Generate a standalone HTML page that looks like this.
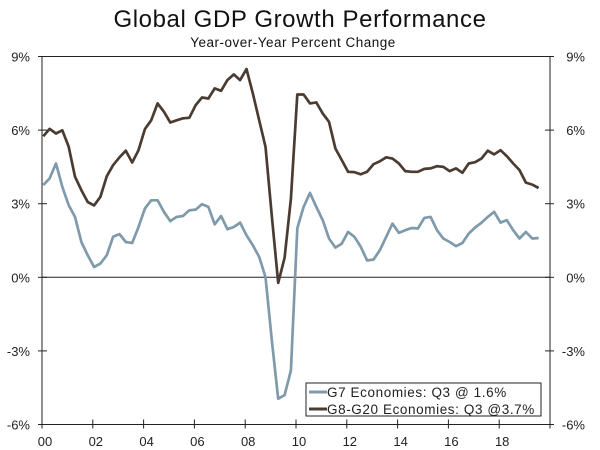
<!DOCTYPE html>
<html><head><meta charset="utf-8"><style>
html,body{margin:0;padding:0;background:#fff;}
svg{display:block;font-family:"Liberation Sans",sans-serif;}
</style></head><body>
<svg id="chart" width="600" height="450">
<text x="300" y="27" text-anchor="middle" font-size="24" letter-spacing="0.6" fill="#111">Global GDP Growth Performance</text>
<text x="293" y="47" text-anchor="middle" font-size="13.5" letter-spacing="0.5" fill="#111">Year-over-Year Percent Change</text>
<g id="axes"></g>
<g id="series"></g>
<g>
<rect x="306" y="383" width="235" height="33" fill="#fff" stroke="#222" stroke-width="1"/>
<line x1="309" y1="392" x2="327" y2="392" stroke="#7f9aab" stroke-width="3"/>
<text x="327" y="397" font-size="13.5" letter-spacing="0.6" fill="#222">G7 Economies: Q3 @ 1.6%</text>
<line x1="309" y1="409" x2="327" y2="409" stroke="#4a3c32" stroke-width="3"/>
<text x="327" y="414" font-size="13.5" letter-spacing="0.6" fill="#222">G8-G20 Economies: Q3 @3.7%</text>
</g>
</svg>
<script>
const startYear = 2000;
const g7Values = [3.76,4.03,4.64,3.69,2.94,2.46,1.44,0.9,0.42,0.56,0.9,1.65,1.76,1.44,1.4,2.05,2.8,3.14,3.14,2.67,2.29,2.46,2.5,2.73,2.76,2.98,2.87,2.16,2.5,1.96,2.05,2.23,1.71,1.31,0.83,0.01,-2.6,-4.95,-4.8,-3.8,
2.0,2.87,3.44,2.87,2.33,1.58,1.21,1.37,1.85,1.65,1.24,0.69,0.72,1.1,1.65,2.19,1.81,1.92,2.01,1.99,2.42,2.46,1.92,1.58,1.44,1.27,1.4,1.78,2.03,2.22,2.46,2.67,2.23,2.33,1.92,1.58,1.85,1.58,1.6];
const g20Values = [5.75,6.05,5.86,5.99,5.32,4.1,3.55,3.07,2.93,3.28,4.12,4.57,4.89,5.16,4.68,5.18,6.04,6.4,7.09,6.75,6.31,6.4,6.48,6.5,7.02,7.33,7.29,7.7,7.6,8.04,8.27,8.04,8.49,7.5,6.4,5.32,2.46,-0.23,0.8,3.2,
7.45,7.45,7.09,7.13,6.68,6.34,5.25,4.78,4.3,4.29,4.2,4.3,4.61,4.73,4.89,4.84,4.64,4.33,4.3,4.3,4.42,4.44,4.53,4.5,4.33,4.44,4.26,4.64,4.69,4.84,5.16,5.01,5.18,4.94,4.64,4.37,3.86,3.78,3.64];
const yTicks = [9,6,3,0,-3,-6];
const xTickYears = [2000,2002,2004,2006,2008,2010,2012,2014,2016,2018];

const L=42,R=550,T=56.5,B=424.5;
const xS = yr => L + (yr-2000)/20*(R-L);
const yS = v => T + (9-v)/15*(B-T);
const NS="http://www.w3.org/2000/svg";
function mk(tag,attrs,parent){const e=document.createElementNS(NS,tag);for(const k in attrs)e.setAttribute(k,attrs[k]);parent.appendChild(e);return e;}
const axes=document.getElementById('axes'), ser=document.getElementById('series');

let e=mk('rect',{x:L,y:T,width:R-L,height:B-T,fill:'none',stroke:'#222','stroke-width':1},axes);


e=mk('line',{x1:L,x2:R,y1:yS(0),y2:yS(0),stroke:'#222','stroke-width':1},axes);



yTicks.forEach(v=>{
  const y=yS(v);
  let t=mk('line',{x1:L-4,x2:L+5,y1:y,y2:y,stroke:'#222'},axes);
  
  
  t=mk('line',{x1:R-5,x2:R+4,y1:y,y2:y,stroke:'#222'},axes);
  
  
  let lb=mk('text',{x:30,y:y+5,'text-anchor':'end','font-size':13,fill:'#222'},axes);
  lb.textContent=v+'%';
  
  
  lb=mk('text',{x:585,y:y+5,'text-anchor':'end','font-size':13,fill:'#222'},axes);
  lb.textContent=v+'%';
  
  
});
xTickYears.concat([2020]).forEach(yr=>{
  const x=xS(yr);
  let t=mk('line',{x1:x,x2:x,y1:B-5,y2:B+4,stroke:'#222'},axes);
  
  
});
xTickYears.forEach(yr=>{
  let lb=mk('text',{x:xS(yr)+3,y:446,'text-anchor':'middle','font-size':13,fill:'#222'},axes);
  lb.textContent=String(yr).slice(2);
  
  
});

function line(vals,color,name){
  const d=vals.map((v,i)=>(i?'L':'M')+xS(startYear+i/4+0.05).toFixed(1)+','+yS(v).toFixed(1)).join(' ');
  const p=mk('path',{d:d,fill:'none',stroke:color,'stroke-width':2.7,'stroke-linejoin':'round'},ser);
  
  
}
line(g7Values,'#7f9aab','g7-line');
line(g20Values,'#4a3c32','g8-g20-line');
</script>
</body></html>
